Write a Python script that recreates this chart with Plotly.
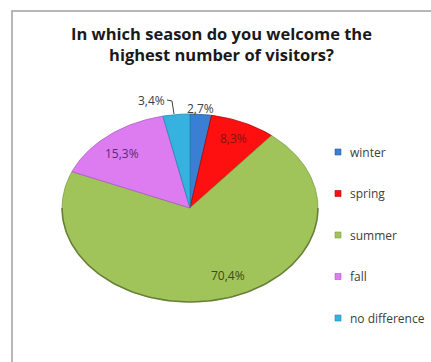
import numpy as np
import plotly.graph_objects as go

# Survey answers: season with the highest number of visitors
seasons = ["winter", "spring", "summer", "fall", "no difference"]
shares = [2.7, 8.3, 70.4, 15.3, 3.4]
share_labels = ["2,7%", "8,3%", "70,4%", "15,3%", "3,4%"]

fills = ["#3b7fd4", "#ff1010", "#a0c35a", "#dc7cf0", "#36b2e0"]
edges = ["#2a5c9c", "#b00000", "#7f9e45", "#a85bc0", "#2488b0"]
label_colors = ["#404040", "#8a1010", "#3a4a22", "#5a2a78", "#404040"]

FONT = "Open Sans, Lato"
W, H = 431, 362
cx, cy = 190, 208      # pie centre (px)
rx, ry = 128, 94       # tilted pie -> ellipse radii (px)

fig = go.Figure()

total = sum(shares)
start = 0.0
for name, val, fc, ec in zip(seasons, shares, fills, edges):
    t0 = start / total * 2 * np.pi
    t1 = (start + val) / total * 2 * np.pi
    t = np.linspace(t0, t1, max(8, int(val * 4)))
    xs = np.concatenate([[cx], cx + rx * np.sin(t), [cx]])
    ys = np.concatenate([[cy], cy - ry * np.cos(t), [cy]])
    fig.add_trace(go.Scatter(
        x=xs, y=ys, mode="lines", fill="toself", fillcolor=fc,
        line=dict(color=ec, width=0.8), hoverinfo="text", text=name,
        showlegend=False))
    start += val

# darker rim along the lower edge of the pie
tr = np.linspace(np.pi / 2, 3 * np.pi / 2, 120)
fig.add_trace(go.Scatter(
    x=cx + rx * np.sin(tr), y=cy - ry * np.cos(tr), mode="lines",
    line=dict(color="rgba(90,115,45,0.8)", width=1.6),
    hoverinfo="skip", showlegend=False))

# value labels
label_pos = {"winter": (200, 108), "spring": (233, 138), "summer": (228, 275),
             "fall": (122, 153), "no difference": (151, 100)}
for name, txt, col in zip(seasons, share_labels, label_colors):
    x, y = label_pos[name]
    fig.add_annotation(x=x, y=y, text=txt, showarrow=False,
                       font=dict(family=FONT, size=12, color=col))

# leader line for the small "no difference" slice
fig.add_trace(go.Scatter(x=[167, 172, 174], y=[100, 101, 114], mode="lines",
                         line=dict(color="#404040", width=1),
                         hoverinfo="skip", showlegend=False))

# legend: coloured squares + item names
lx, ly0, dy = 338, 152, 41.5
fig.add_trace(go.Scatter(
    x=[lx] * len(seasons), y=[ly0 + i * dy for i in range(len(seasons))],
    mode="markers",
    marker=dict(symbol="square", size=6, color=fills,
                line=dict(color=edges, width=0.6)),
    hoverinfo="skip", showlegend=False, cliponaxis=False))
for i, s in enumerate(seasons):
    fig.add_annotation(x=lx + 10, y=ly0 + i * dy, text=s, showarrow=False,
                       xanchor="left", yanchor="middle",
                       font=dict(family=FONT, size=12, color="#404040"))

# title
fig.add_annotation(x=W / 2 + 6, y=44, text="In which season do you welcome the<br>highest number of visitors?",
                   showarrow=False, xanchor="center", yanchor="middle",
                   font=dict(family=FONT, size=16.5, color="#1a1a1a", weight="bold"))

# chart frame
fig.add_shape(type="rect", x0=12, y0=11, x1=W + 5, y1=H + 5,
              line=dict(color="#a0a0a0", width=1.5))

fig.update_layout(
    width=W, height=H, margin=dict(l=0, r=0, t=0, b=0),
    paper_bgcolor="white", plot_bgcolor="white",
    xaxis=dict(range=[0, W], visible=False, fixedrange=True),
    yaxis=dict(range=[H, 0], visible=False, fixedrange=True),
)

fig.write_html("out.html")
